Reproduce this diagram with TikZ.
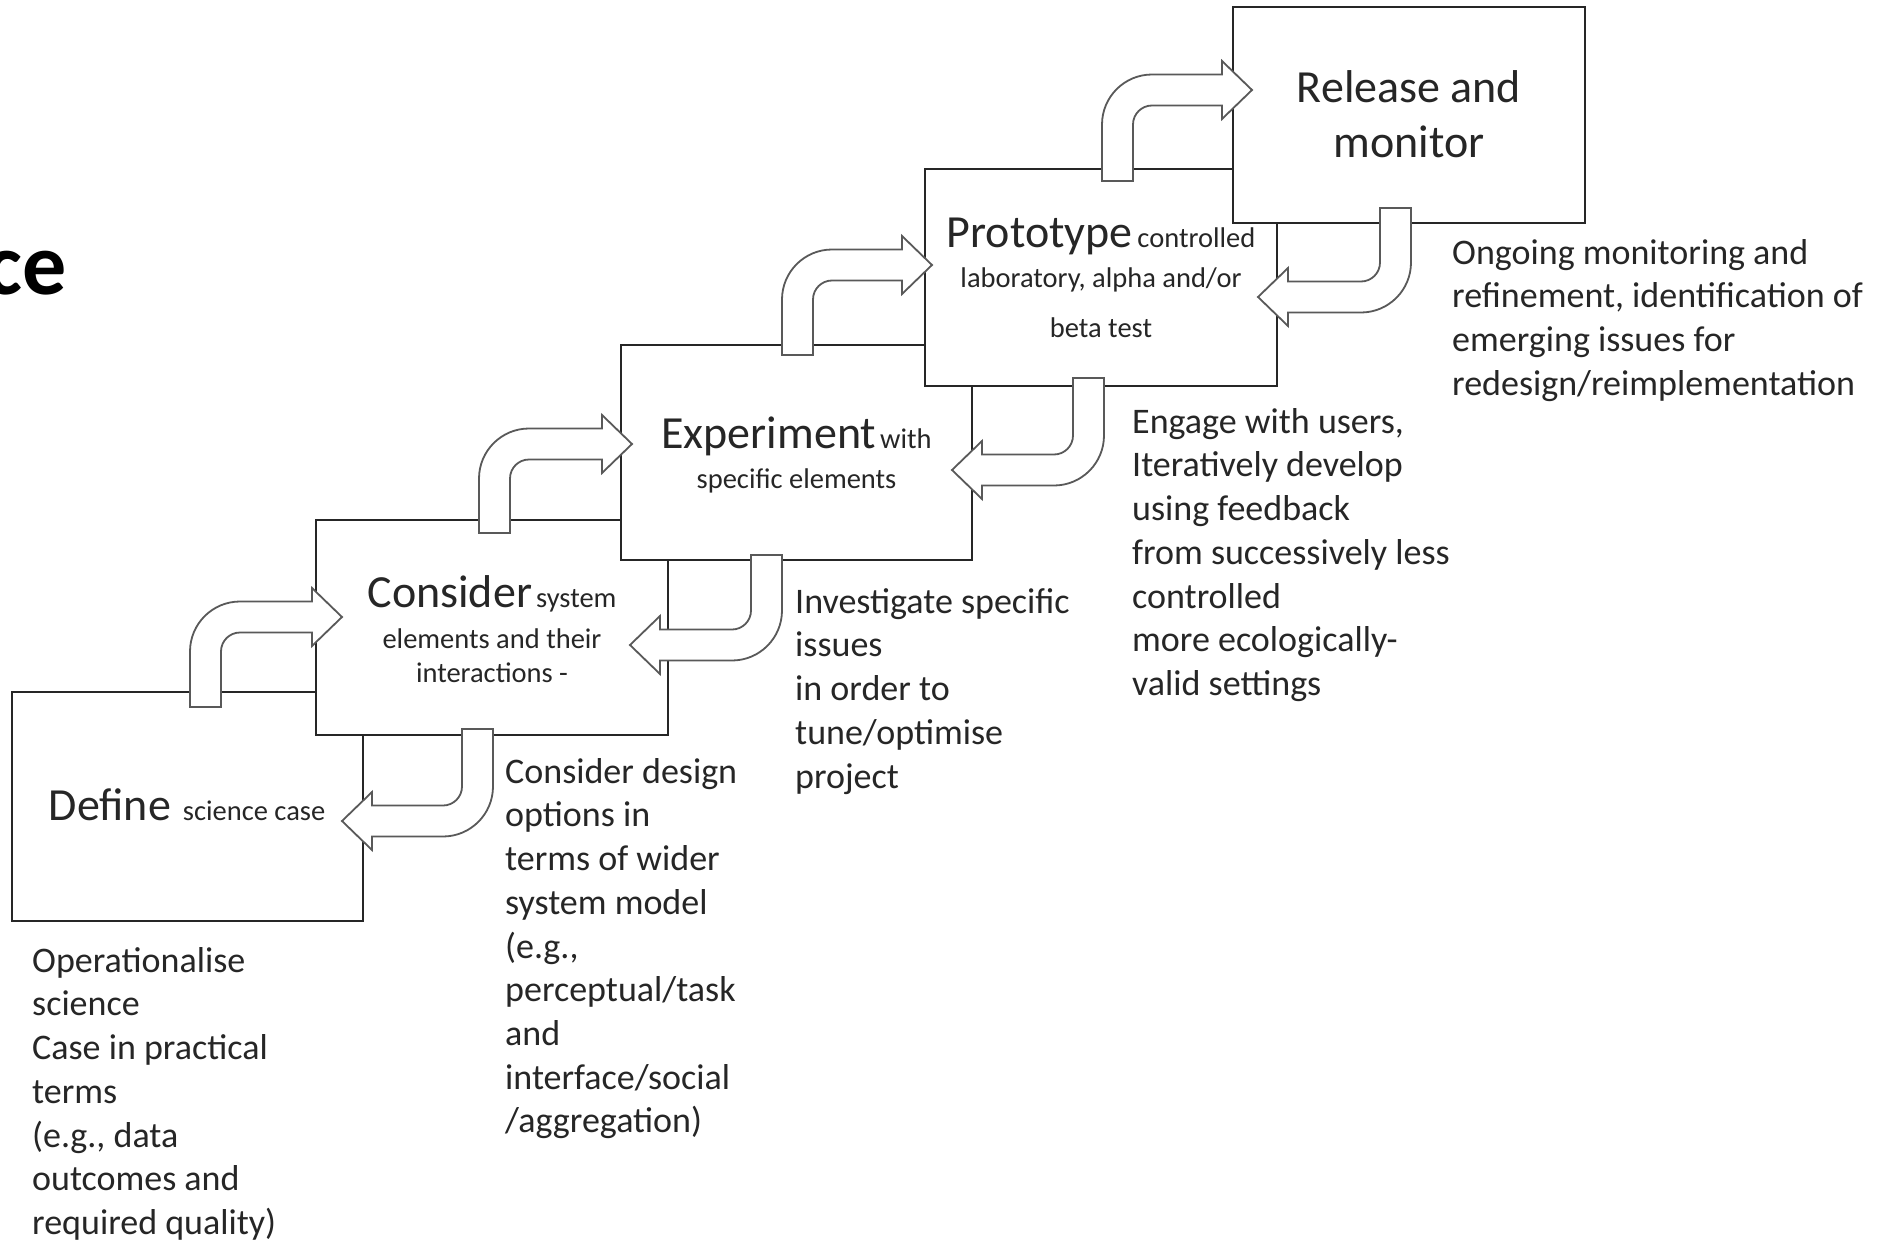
\documentclass[tikz,border=0pt]{standalone}
\usepackage{fontspec}
\setmainfont{Carlito}
\tikzset{
  boxst/.style={draw=black!85, line width=2pt, fill=white, rectangle, inner sep=0pt},
  arr/.style={draw=black!65, line width=1.8pt, fill=white, line join=miter},
  desc/.style={anchor=north west, align=left, inner sep=0pt, text=black!85, font=\fontsize{36}{43.7}\selectfont},
  btxt/.style={anchor=north, align=center, inner sep=0pt, text=black!85, font=\fontsize{28.5}{34}\selectfont},
}
% up-right arrow: #1 stem left x, #2 stem bottom y, #3 shaft centre y, #4 tip x
\newcommand{\myup}[4]{%
  \draw[arr] (#1,#2) -- (#1,#3-15.5+50)
    .. controls (#1,#3-15.5+22.4) and (#1+22.4,#3-15.5) .. (#1+50,#3-15.5)
    -- (#4-30,#3-15.5) -- (#4-30,#3-29) -- (#4,#3) -- (#4-30,#3+29) -- (#4-30,#3+15.5)
    -- (#1+50,#3+15.5)
    .. controls (#1+39.5,#3+15.5) and (#1+31,#3+15.5+8.5) .. (#1+31,#3+15.5+19)
    -- (#1+31,#2) -- cycle;}
% down-left arrow: #1 stem right x, #2 stem top y, #3 shaft centre y, #4 tip x
\newcommand{\mydown}[4]{%
  \draw[arr] (#1-31,#2) -- (#1,#2) -- (#1,#3+15.5-50)
    .. controls (#1,#3+15.5-22.4) and (#1-22.4,#3+15.5) .. (#1-50,#3+15.5)
    -- (#4+30,#3+15.5) -- (#4+30,#3+29) -- (#4,#3) -- (#4+30,#3-29) -- (#4+30,#3-15.5)
    -- (#1-50,#3-15.5)
    .. controls (#1-39.5,#3-15.5) and (#1-31,#3-15.5-8.5) .. (#1-31,#3-15.5-19)
    -- cycle;}
\begin{document}
\begin{tikzpicture}[x=1pt,y=-1pt]
\fill[white] (0,0) rectangle (1877,1244);
\useasboundingbox (0,0) rectangle (1877,1244);

\node[anchor=base east, inner sep=0pt, text=black, font=\fontsize{88}{100}\selectfont\bfseries] (title) at (67,294) {ce};

% boxes
\node[boxst, minimum width=351pt, minimum height=229pt] (define) at (187.5,806.5) {};
\node[btxt] (definet) at (187,780) {\rule{0pt}{40pt}{\fontsize{46}{55}\selectfont Define}\hspace{12pt}science case};

\node[boxst, minimum width=352pt, minimum height=215pt] (consider) at (492,627.5) {};
\node[btxt] (considert) at (492,567) {\rule{0pt}{40pt}{\fontsize{46}{34}\selectfont Consider}\hspace{4pt}system\\[7pt] elements and their\\ interactions -};

\node[boxst, minimum width=351pt, minimum height=215pt] (experiment) at (796.5,452.5) {};
\node[btxt] (experimentt) at (796.5,408) {\rule{0pt}{40pt}{\fontsize{46}{34}\selectfont Experiment}\hspace{4pt}with\\[6pt] specific elements};

\node[boxst, minimum width=352pt, minimum height=217pt] (prototype) at (1101,277.5) {};
\node[btxt] (prototypet) at (1101,207) {\rule{0pt}{40pt}{\fontsize{46}{34}\selectfont Prototype}\hspace{5pt}controlled\\[6pt] laboratory, alpha and/or\\[16pt] beta test};

\node[boxst, minimum width=352pt, minimum height=216pt] (release) at (1409,115) {};
\node[btxt, font=\fontsize{46}{55}\selectfont] (releaset) at (1409,62) {\rule{0pt}{40pt}Release and\\ monitor};

% arrows
\myup{190}{707}{617}{342}
\myup{479}{533}{444}{632}
\myup{782}{355}{265}{932}
\myup{1102}{181}{90}{1252}
\mydown{493}{729}{821}{342}
\mydown{782}{555}{645}{630}
\mydown{1104}{378}{470}{952}
\mydown{1411}{208}{297}{1258}

% descriptions
\node[desc] (d1) at (32,940) {\rule{0pt}{32pt}Operationalise\\ science\\ Case in practical\\ terms\\ (e.g., data\\ outcomes and\\ required quality)};
\node[desc] (d2) at (505,751) {\rule{0pt}{32pt}Consider design\\ options in\\ terms of wider\\ system model\\ (e.g.,\\ perceptual/task\\ and\\ interface/social\\ /aggregation)};
\node[desc] (d3) at (795,581) {\rule{0pt}{32pt}Investigate specific\\ issues\\ in order to\\ tune/optimise\\ project};
\node[desc] (d4) at (1132,401) {\rule{0pt}{32pt}Engage with users,\\ Iteratively develop\\ using feedback\\ from successively less\\ controlled\\ more ecologically-\\ valid settings};
\node[desc] (d5) at (1452,232) {\rule{0pt}{32pt}Ongoing monitoring and\\ refinement, identification of\\ emerging issues for\\ redesign/reimplementation};
\end{tikzpicture}
\end{document}
